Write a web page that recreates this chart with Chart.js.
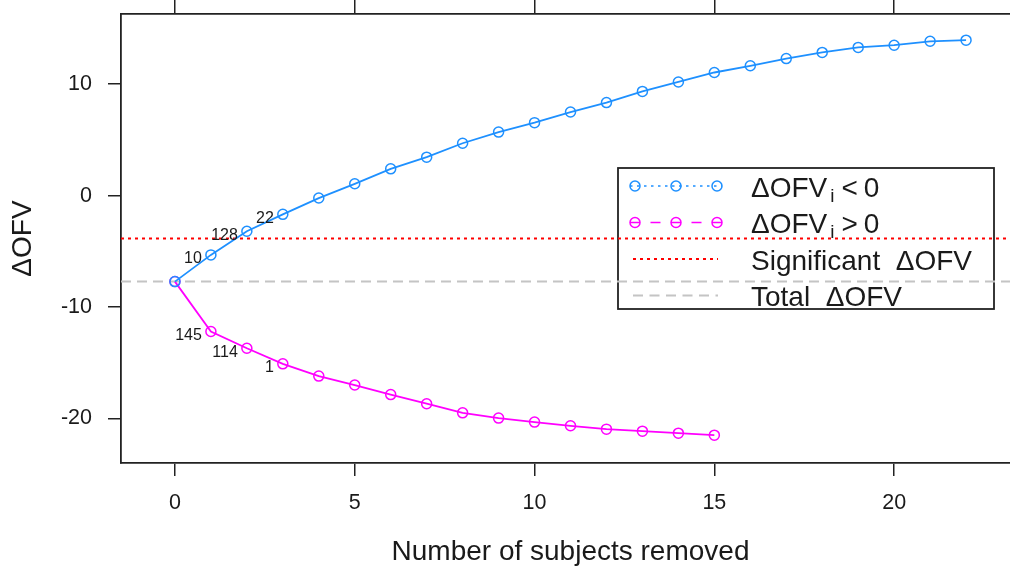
<!DOCTYPE html>
<html>
<head>
<meta charset="utf-8">
<script src="https://cdn.jsdelivr.net/npm/chart.js@4.4.1/dist/chart.umd.min.js"></script>
<style>
  html, body { margin: 0; padding: 0; overflow: hidden; background: #fff; }
  #wrap { width: 1010px; height: 569px; overflow: hidden; }
  canvas { display: block; }
</style>
</head>
<body>
<div id="wrap"><canvas id="dofv" width="1020" height="569" style="width:1020px;height:569px"></canvas></div>
<script>
// ---- values ----
const removedNeg = [0, 1, 2, 3, 4, 5, 6, 7, 8, 9, 10, 11, 12, 13, 14, 15, 16, 17, 18, 19, 20, 21, 22];
const dofvNeg = [-7.72, -5.32, -3.2, -1.68, -0.22, 1.06, 2.4, 3.45, 4.7, 5.7, 6.55, 7.5, 8.35,
                 9.35, 10.2, 11.05, 11.65, 12.3, 12.85, 13.3, 13.5, 13.85, 13.95];
const removedPos = [0, 1, 2, 3, 4, 5, 6, 7, 8, 9, 10, 11, 12, 13, 14, 15];
const dofvPos = [-7.72, -12.2, -13.7, -15.1, -16.2, -17.0, -17.86, -18.68, -19.5, -19.97,
                 -20.33, -20.66, -20.96, -21.14, -21.32, -21.5];
const significantDofv = -3.84;
const totalDofv = -7.72;

// subject ids written next to the first removals
const negIdAt = [1, 2, 3];
const negIds = ['10', '128', '22'];
const posIdAt = [1, 2, 3];
const posIds = ['145', '114', '1'];

const xTicks = [0, 5, 10, 15, 20];
const yTicks = [-20, -10, 0, 10];
// the plot box runs a little past the right edge of the picture
const xRange = [-1.5, 23.5];
const yRange = [-24, 16.3];

const legendMain = ['ΔOFV', 'ΔOFV', 'Significant  ΔOFV', 'Total  ΔOFV'];
const legendSub = ['i', 'i', '', ''];
const legendTail = ['< 0', '> 0', '', ''];

const FONT = '"Liberation Sans", Arial, sans-serif';
const INK = '#1a1a1a';
const BLUE = '#1e90ff', PINK = '#ff00ff', RED = '#ff0000', GREY = '#c4c4c4';

const pts = (xs, ys) => xs.map((x, i) => ({ x, y: ys[i] }));
const flat = v => [{ x: xRange[0], y: v }, { x: xRange[1], y: v }];

// ---- boxed legend, drawn before the datasets so the ablines cross it ----
const boxLegend = {
  id: 'boxLegend',
  beforeDatasetsDraw(chart) {
    const ctx = chart.ctx;
    ctx.save();
    ctx.fillStyle = '#fff';
    ctx.fillRect(618, 168, 376, 141);
    ctx.strokeStyle = '#222';
    ctx.lineWidth = 1.8;
    ctx.strokeRect(618, 168, 376, 141);

    const rowsY = [186, 222.5, 259, 295.5];
    const styles = [
      { color: BLUE, dash: [2.5, 4.5], w: 1.5, x0: 630, x1: 722, marks: true },
      { color: PINK, dash: [10, 10.5], w: 1.5, x0: 630, x1: 722, marks: true },
      { color: RED, dash: [3, 4], w: 2, x0: 633, x1: 718, marks: false },
      { color: GREY, dash: [10, 6.5], w: 2, x0: 633, x1: 718, marks: false }
    ];
    styles.forEach((s, k) => {
      const y = rowsY[k];
      ctx.strokeStyle = s.color;
      ctx.lineWidth = s.w;
      ctx.setLineDash(s.dash);
      ctx.beginPath();
      ctx.moveTo(s.x0, y);
      ctx.lineTo(s.x1, y);
      ctx.stroke();
      ctx.setLineDash([]);
      if (s.marks) {
        ctx.lineWidth = 1.5;
        [635, 676, 717].forEach(cx => {
          ctx.beginPath();
          ctx.arc(cx, y, 5, 0, Math.PI * 2);
          ctx.stroke();
        });
      }

      // text, with the plotmath-like subscript
      const base = y + 10.5;
      let x = 751;
      ctx.fillStyle = INK;
      ctx.textAlign = 'left';
      ctx.textBaseline = 'alphabetic';
      ctx.font = '28px ' + FONT;
      ctx.fillText(legendMain[k], x, base);
      x += ctx.measureText(legendMain[k]).width;
      if (legendSub[k]) {
        ctx.font = '19px ' + FONT;
        ctx.fillText(legendSub[k], x + 3, base + 5);
        x += 3 + ctx.measureText(legendSub[k]).width;
      }
      if (legendTail[k]) {
        ctx.font = '28px ' + FONT;
        const [op, num] = legendTail[k].split(' ');
        x += 7;
        ctx.fillText(op, x, base);
        x += ctx.measureText(op).width + 6;
        ctx.fillText(num, x, base);
      }
    });
    ctx.restore();
  }
};

// ---- subject ids next to points ----
const idLabels = {
  id: 'idLabels',
  afterDatasetsDraw(chart) {
    const ctx = chart.ctx;
    ctx.save();
    ctx.font = '16px ' + FONT;
    ctx.fillStyle = INK;
    ctx.textAlign = 'right';
    ctx.textBaseline = 'middle';
    [[0, negIdAt, negIds], [1, posIdAt, posIds]].forEach(([ds, at, ids]) => {
      const meta = chart.getDatasetMeta(ds);
      const data = chart.data.datasets[ds].data;
      at.forEach((xv, k) => {
        const el = meta.data[data.findIndex(d => d.x === xv)];
        ctx.fillText(ids[k], el.x - 9, el.y + 4);
      });
    });
    ctx.restore();
  }
};

const axisGrid = { drawOnChartArea: false, drawTicks: true, tickLength: 13, color: '#222', lineWidth: 1.5 };
const axisBorder = { display: true, color: '#222', width: 1.8 };
const tickFont = { family: FONT, size: 21.5 };

// fixed axis sizes so the plot box sits where R put it
const fixSize = (prop, size) => s => {
  s[prop] = size;
  s.paddingTop = 0; s.paddingBottom = 0; s.paddingLeft = 0; s.paddingRight = 0;
};

new Chart(document.getElementById('dofv').getContext('2d'), {
  type: 'line',
  data: {
    datasets: [
      {
        label: 'ΔOFVi < 0',
        data: pts(removedNeg, dofvNeg),
        borderColor: BLUE, borderWidth: 1.8,
        pointRadius: 5, pointBorderWidth: 1.5,
        pointBorderColor: BLUE, pointBackgroundColor: 'rgba(0,0,0,0)',
        tension: 0
      },
      {
        label: 'ΔOFVi > 0',
        data: pts(removedPos, dofvPos),
        borderColor: PINK, borderWidth: 1.8,
        pointRadius: 5, pointBorderWidth: 1.5,
        pointBorderColor: PINK, pointBackgroundColor: 'rgba(0,0,0,0)',
        tension: 0
      },
      {
        label: 'Significant ΔOFV',
        data: flat(significantDofv),
        borderColor: RED, borderWidth: 2, borderDash: [3, 4],
        pointRadius: 0
      },
      {
        label: 'Total ΔOFV',
        data: flat(totalDofv),
        borderColor: GREY, borderWidth: 2, borderDash: [10, 6],
        pointRadius: 0
      }
    ]
  },
  options: {
    responsive: false,
    animation: false,
    devicePixelRatio: 1,
    layout: { padding: 0, autoPadding: false },
    plugins: { legend: { display: false }, tooltip: { enabled: false } },
    scales: {
      x: {
        type: 'linear', position: 'bottom',
        min: xRange[0], max: xRange[1],
        afterBuildTicks: s => { s.ticks = xTicks.map(v => ({ value: v })); },
        afterFit: fixSize('height', 106),
        ticks: { autoSkip: false, maxRotation: 0, color: INK, font: tickFont, padding: 14, callback: v => String(v) },
        grid: axisGrid,
        border: axisBorder,
        title: {
          display: true, text: 'Number of subjects removed', color: INK,
          font: { family: FONT, size: 28 }, padding: { top: 0, bottom: 0 }
        }
      },
      xTop: {
        type: 'linear', axis: 'x', position: 'top',
        min: xRange[0], max: xRange[1],
        afterBuildTicks: s => { s.ticks = xTicks.map(v => ({ value: v })); },
        afterFit: fixSize('height', 14),
        ticks: { display: false },
        grid: Object.assign({}, axisGrid, { tickLength: 14 }),
        border: axisBorder
      },
      y: {
        type: 'linear', position: 'left',
        min: yRange[0], max: yRange[1],
        afterBuildTicks: s => { s.ticks = yTicks.map(v => ({ value: v })); },
        afterFit: fixSize('width', 121),
        ticks: { autoSkip: false, color: INK, font: tickFont, padding: 16, callback: v => String(v) },
        grid: axisGrid,
        border: axisBorder,
        title: {
          display: true, text: 'ΔOFV', color: INK,
          font: { family: FONT, size: 28 }, padding: { top: 6, bottom: 0 }
        }
      }
    }
  },
  plugins: [boxLegend, idLabels]
});
</script>
</body>
</html>
